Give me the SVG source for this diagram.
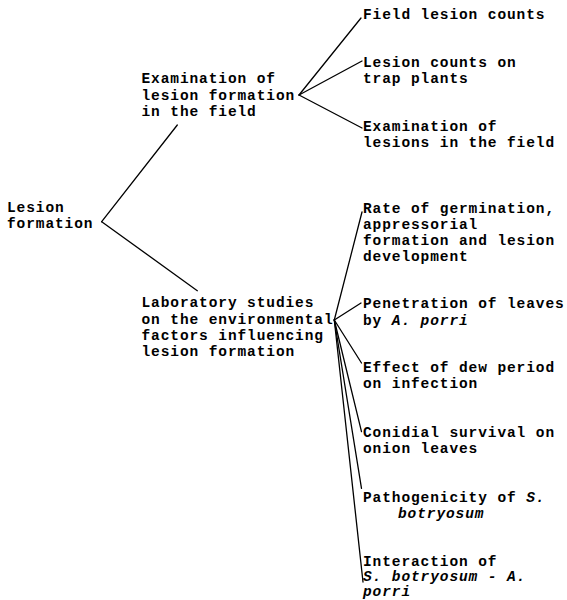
<svg xmlns="http://www.w3.org/2000/svg" width="567" height="600" viewBox="0 0 567 600">
<style>
text{font-family:"Liberation Mono","Courier New",monospace;font-size:14.5px;letter-spacing:0.9px;font-weight:bold;fill:#000}
.i{font-style:italic}
.c line{stroke:#000;stroke-width:1.3;stroke-linecap:round}
</style>
<rect width="567" height="600" fill="#fff"/>
<g class="c" id="connectors">
<line x1="101.7" y1="221.7" x2="177.3" y2="125"/>
<line x1="101.7" y1="221.7" x2="197.3" y2="290.7"/>
<line x1="299" y1="95" x2="361" y2="18"/>
<line x1="299" y1="95" x2="362" y2="61"/>
<line x1="299" y1="95" x2="362" y2="128"/>
<line x1="334.3" y1="320" x2="362" y2="212"/>
<line x1="334.3" y1="320" x2="361" y2="303"/>
<line x1="334.3" y1="320" x2="361.5" y2="363"/>
<line x1="334.3" y1="320" x2="361.5" y2="431.7"/>
<line x1="334.3" y1="320" x2="361.5" y2="488.3"/>
<line x1="334.3" y1="320" x2="363" y2="582"/>
</g>
<g id="root"><text x="7" y="211.7">Lesion</text><text x="7" y="227.9">formation</text></g>
<g id="field"><text x="141.5" y="83.3">Examination of</text><text x="141.5" y="99.5">lesion formation</text><text x="141.5" y="115.7">in the field</text></g>
<g id="lab"><text x="141.5" y="307.3">Laboratory studies</text><text x="141.5" y="323.5">on the environmental</text><text x="141.5" y="339.7">factors influencing</text><text x="141.5" y="356">lesion formation</text></g>
<g id="leaf1"><text x="363" y="19">Field lesion counts</text></g>
<g id="leaf2"><text x="363" y="66.7">Lesion counts on</text><text x="363" y="82.9">trap plants</text></g>
<g id="leaf3"><text x="363" y="131">Examination of</text><text x="363" y="147.3">lesions in the field</text></g>
<g id="leaf4"><text x="363" y="213.3">Rate of germination,</text><text x="363" y="229.4">appressorial</text><text x="363" y="245.4">formation and lesion</text><text x="363" y="261">development</text></g>
<g id="leaf5"><text x="363" y="308.3">Penetration of leaves</text><text x="363" y="324.5">by <tspan class="i">A. porri</tspan></text></g>
<g id="leaf6"><text x="363" y="371.7">Effect of dew period</text><text x="363" y="388">on infection</text></g>
<g id="leaf7"><text x="363" y="436.7">Conidial survival on</text><text x="363" y="453">onion leaves</text></g>
<g id="leaf8"><text x="363" y="501.7">Pathogenicity of <tspan class="i">S.</tspan></text><text x="398" y="518" class="i">botryosum</text></g>
<g id="leaf9"><text x="363" y="565.5">Interaction of</text><text x="363" y="581" class="i">S. botryosum - A.</text><text x="363" y="596" class="i">porri</text></g>
</svg>
